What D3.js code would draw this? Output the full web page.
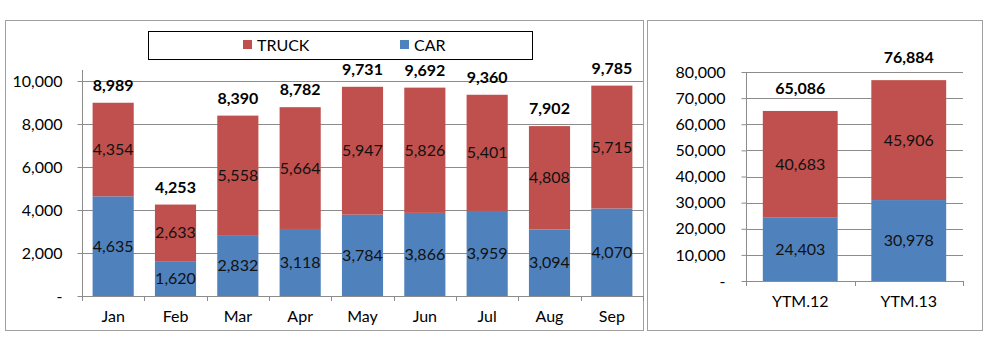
<!DOCTYPE html>
<html><head><meta charset="utf-8">
<script src="https://cdn.jsdelivr.net/npm/d3@7"></script>
<style>body{margin:0;background:#fff}svg{display:block;font-family:Lato,"Open Sans",sans-serif}</style>
</head><body><svg id="c" width="992" height="352"></svg>
<script>
const months = ["Jan","Feb","Mar","Apr","May","Jun","Jul","Aug","Sep"];
const carMonthly = [4635,1620,2832,3118,3784,3866,3959,3094,4070];
const truckMonthly = [4354,2633,5558,5664,5947,5826,5401,4808,5715];
const totalMonthly = [8989,4253,8390,8782,9731,9692,9360,7902,9785];
const ytdCats = ["YTM.12","YTM.13"];
const carYtd = [24403,30978];
const truckYtd = [40683,45906];
const totalYtd = [65086,76884];
const leftTicks = [0,2000,4000,6000,8000,10000];
const rightTicks = [0,10000,20000,30000,40000,50000,60000,70000,80000];
const seriesNames = ["TRUCK","CAR"];

const RED = "#C0504D", BLUE = "#4F81BD", GRID = "#8c8c8c";
const FS = 16;
const svg = d3.select("#c");
const fmt = v => v === 0 ? "-" : d3.format(",")(v);

// panel borders
svg.append("rect").attr("x",5.5).attr("y",20.5).attr("width",638).attr("height",310).attr("fill","none").attr("stroke","#a0a0a0");
svg.append("rect").attr("x",647.5).attr("y",20.5).attr("width",335).attr("height",310).attr("fill","none").attr("stroke","#a0a0a0");

function panel(o){
  const g = svg.append("g");
  const x = d3.scaleBand().domain(o.cats).range([o.x0,o.x1]).paddingInner(o.pad).paddingOuter(o.pad/2);
  const y = d3.scaleLinear().domain([0,o.max]).range([o.y0,o.y1]);
  g.selectAll(".grid").data(o.ticks.slice(1)).join("line")
    .attr("x1",o.x0).attr("x2",o.x1).attr("y1",d=>Math.round(y(d))+0.5).attr("y2",d=>Math.round(y(d))+0.5)
    .attr("stroke",GRID).attr("stroke-width",1);
  const ya = d3.axisLeft(y).tickValues(o.ticks).tickFormat(fmt).tickSize(5).tickPadding(o.tickPad);
  const yg = g.append("g").attr("transform",`translate(${o.x0+0.5},0)`).call(ya);
  yg.select(".domain").attr("d",`M-0,${o.axisTop}V${o.y0}`).attr("stroke",GRID);
  yg.selectAll(".tick line").attr("stroke",GRID);
  yg.selectAll(".tick text").attr("font-size",FS).attr("fill","#000").attr("font-family","Lato");
  const xa = d3.axisBottom(x).tickSize(0).tickPadding(o.xPad);
  const xg = g.append("g").attr("transform",`translate(0,${o.y0+0.5})`).call(xa);
  xg.select(".domain").attr("d",`M${o.x0},0H${o.x1}`).attr("stroke",GRID);
  xg.selectAll(".tick text").attr("font-size",FS).attr("fill","#000").attr("font-family","Lato");
  g.selectAll(".sep").data(d3.range(o.cats.length+1)).join("line")
    .attr("x1",i=>Math.round(o.x0+i*(o.x1-o.x0)/o.cats.length)+0.5).attr("x2",i=>Math.round(o.x0+i*(o.x1-o.x0)/o.cats.length)+0.5)
    .attr("y1",o.y0).attr("y2",o.y0+5).attr("stroke",GRID);
  o.cats.forEach((c,i)=>{
    const car=o.car[i], tr=o.truck[i];
    g.append("rect").attr("x",x(c)).attr("width",x.bandwidth()).attr("y",y(car)).attr("height",y(0)-y(car)).attr("fill",BLUE);
    g.append("rect").attr("x",x(c)).attr("width",x.bandwidth()).attr("y",y(car+tr)).attr("height",y(car)-y(car+tr)).attr("fill",RED);
    const cx = x(c)+x.bandwidth()/2;
    g.append("text").attr("x",cx).attr("y",y(car/2)).attr("dy","0.35em").attr("text-anchor","middle").attr("font-size",FS).attr("fill","#111").text(d3.format(",")(car));
    g.append("text").attr("x",cx).attr("y",y(car+tr/2)).attr("dy","0.35em").attr("text-anchor","middle").attr("font-size",FS).attr("fill","#111").text(d3.format(",")(tr));
    g.append("text").attr("x",cx).attr("y",y(o.total[i])-o.totOff).attr("dy","0.35em").attr("text-anchor","middle").attr("font-size",FS).attr("font-weight","bold").attr("fill","#000").text(d3.format(",")(o.total[i]));
  });
}

panel({cats:months,car:carMonthly,truck:truckMonthly,total:totalMonthly,ticks:leftTicks,max:10000,
  x0:82,x1:643,y0:296,y1:81,axisTop:70,pad:0.34,tickPad:15,xPad:14,totOff:17.5});
panel({cats:ytdCats,car:carYtd,truck:truckYtd,total:totalYtd,ticks:rightTicks,max:80000,
  x0:746,x1:963,y0:281,y1:72,axisTop:72,pad:0.31,tickPad:16,xPad:14,totOff:23});

const lg = svg.append("g");
lg.append("rect").attr("x",148.5).attr("y",31.5).attr("width",384).attr("height",28).attr("fill","#fff").attr("stroke","#000");
const lx = [243,400];
seriesNames.forEach((n,i)=>{
  lg.append("rect").attr("x",lx[i]).attr("y",40).attr("width",9).attr("height",9).attr("fill",i===0?RED:BLUE);
  lg.append("text").attr("x",lx[i]+14).attr("y",45).attr("dy","0.35em").attr("font-size",FS).attr("fill","#000").text(n);
});
</script></body></html>
